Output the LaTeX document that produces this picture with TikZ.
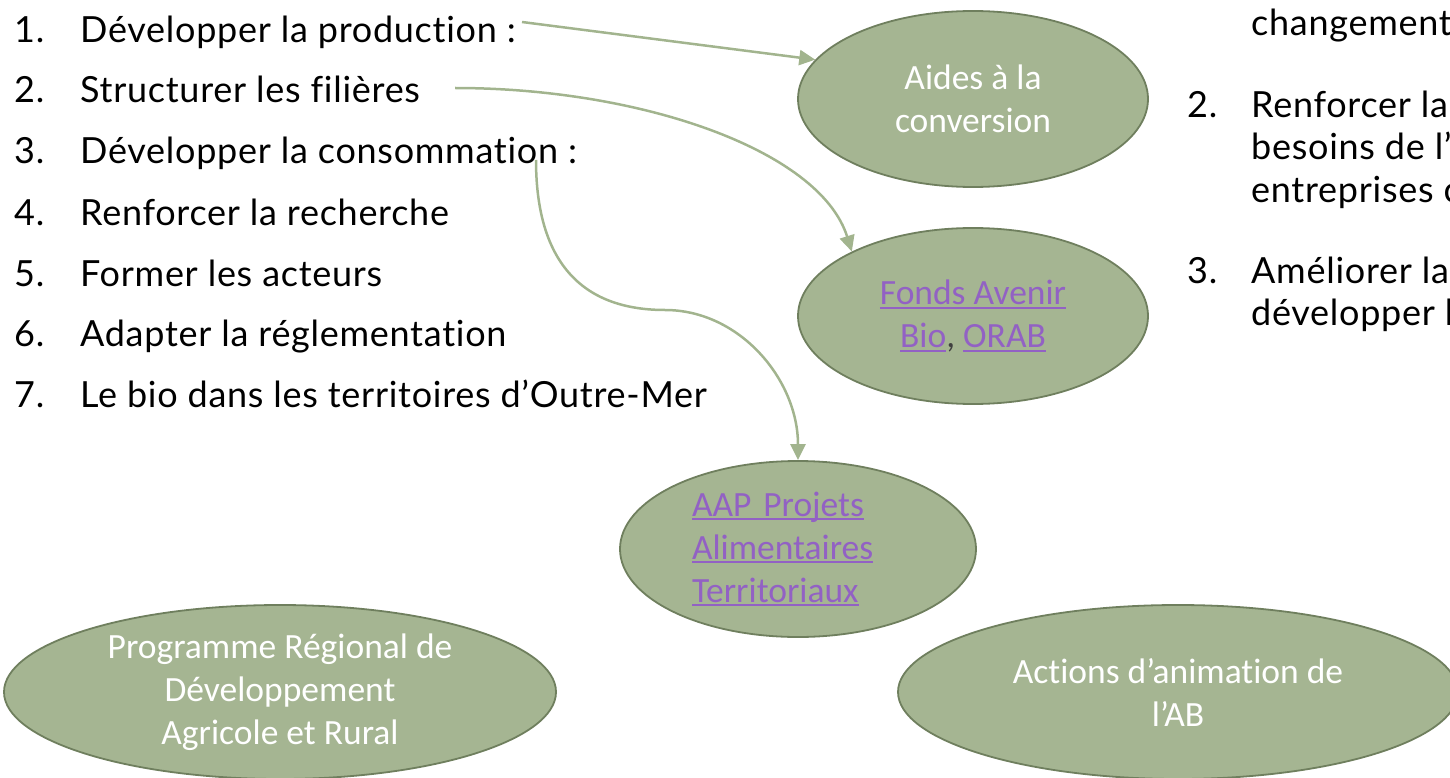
\documentclass[tikz,border=0pt]{standalone}
\usepackage{fontspec}
\setmainfont{Lato}[Ligatures={NoCommon},LetterSpace=2.0]
\newfontfamily\calfont{Carlito}[Ligatures={NoCommon}]
\usetikzlibrary{shapes.geometric,arrows.meta}
\definecolor{fillg}{HTML}{A5B592}
\definecolor{edgeg}{HTML}{6F7F5E}
\definecolor{arrg}{HTML}{A2B48E}
\definecolor{lnkc}{HTML}{9261C4}
\newcommand\lnk[1]{\leavevmode\setbox0\hbox{#1}\rlap{\rule[-4pt]{\wd0}{2pt}}\box0}
\begin{document}
\begin{tikzpicture}[x=1pt,y=-1pt,
 item/.style={anchor=base west,inner sep=0,font=\fontsize{36}{42}\selectfont},
 bubble/.style={ellipse,draw=edgeg,fill=fillg,line width=1.8pt,inner sep=0,
   minimum width=350,minimum height=176,
   font=\calfont\fontsize{35.5}{43}\selectfont,text=white,align=center},
 conn/.style={draw=arrg,line width=2.5pt,-{Triangle[length=16pt,width=15pt]}}]
\useasboundingbox (0,0) rectangle (1450,778);
\begin{scope}
\clip (0,0) rectangle (1450,778);
% left list
\node[item] (n1) at (14,43) {1.};
\node[item] (t1) at (80,43) {Développer la production :};
\node[item] (n2) at (14,103) {2.};
\node[item] (t2) at (80,103) {Structurer les filières};
\node[item] (n3) at (14,164) {3.};
\node[item] (t3) at (80,164) {Développer la consommation :};
\node[item] (n4) at (14,225) {4.};
\node[item] (t4) at (80,225) {Renforcer la recherche};
\node[item] (n5) at (14,286) {5.};
\node[item] (t5) at (80,286) {Former les acteurs};
\node[item] (n6) at (14,346) {6.};
\node[item] (t6) at (80,346) {Adapter la réglementation};
\node[item] (n7) at (14,407) {7.};
\node[item] (t7) at (80,407) {Le bio dans les territoires d’Outre-Mer};
% right list (cut by the edge, as in the reference)
\node[item] (r1) at (1251,36) {changement};
\node[item] (r2n) at (1187,118) {2.};
\node[item] (r2a) at (1251,118) {Renforcer la};
\node[item] (r2b) at (1251,160) {besoins de l’};
\node[item] (r2c) at (1251,202) {entreprises c};
\node[item] (r3n) at (1187,283) {3.};
\node[item] (r3a) at (1251,283) {Améliorer la};
\node[item] (r3b) at (1251,325) {développer l};
% bubbles
\node[bubble] (aides) at (973,99) {Aides à la\\conversion};
\node[bubble] (fonds) at (973,316) {\textcolor{lnkc}{\lnk{Fonds Avenir}}\\\textcolor{lnkc}{\lnk{Bio}}\textcolor{black!75}{,} \textcolor{lnkc}{\lnk{ORAB}}};
\node[bubble,minimum width=356,text width=212,align=left,text=lnkc] (aap) at (798,549) {\lnk{AAP Projets}\\\lnk{Alimentaires}\\\lnk{Territoriaux}};
\node[bubble,minimum width=552,minimum height=174] (prog) at (280,692) {Programme Régional de\\Développement\\Agricole et Rural};
\node[bubble,minimum width=560,minimum height=174] (anim) at (1178,692) {Actions d’animation de\\l’AB};
% connectors
\coordinate (s1) at (522,22);
\coordinate (s2) at (455,88);
\coordinate (s3) at (536,160);
\coordinate (k3) at (665,310);
\draw[conn] (s1) -- (aides.166);
\draw[conn] (s2) .. controls (640,88) and (820,150) .. (fonds.152);
\draw[conn] (s3) .. controls (536,260) and (580,310) .. (k3) .. controls (740,310) and (798,380) .. (aap.north);
\end{scope}
\end{tikzpicture}
\end{document}
